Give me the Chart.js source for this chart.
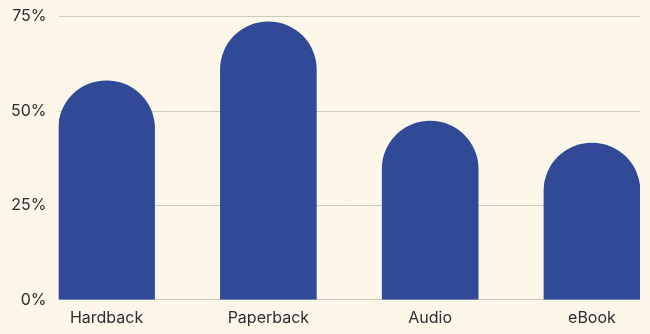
<!DOCTYPE html>
<html>
<head>
<meta charset="utf-8">
<script src="https://cdn.jsdelivr.net/npm/chart.js@4"></script>
<style>
  html, body { margin: 0; padding: 0; background: #FDF7E9; overflow: hidden; }
  #wrap { width: 650px; height: 339px; margin-top: -5px; }
</style>
</head>
<body>
<div id="wrap"><canvas id="formatChart"></canvas></div>
<script>
const formats = ['Hardback', 'Paperback', 'Audio', 'eBook'];
const shares = [58.0, 73.6, 47.3, 41.5];
const yTicks = [0, 25, 50, 75];

const barColor = '#304A98';
const textColor = '#2E2E2E';
const gridColor = '#CFCABA';

const ctx = document.getElementById('formatChart').getContext('2d');

new Chart(ctx, {
    type: 'bar',
    data: {
        datasets: [{
            label: 'Share',
            data: shares.map((v, i) => ({ x: i, y: v })),
            backgroundColor: barColor,
            borderRadius: 48,
            borderSkipped: 'bottom',
            barThickness: 96
        }]
    },
    options: {
        responsive: true,
        maintainAspectRatio: false,
        animation: false,
        layout: { padding: { top: 0, right: 10, left: -1, bottom: 5 } },
        plugins: {
            legend: { display: false },
            tooltip: { enabled: false }
        },
        scales: {
            x: {
                type: 'linear',
                offset: false,
                min: -0.297,
                max: 3.297,
                grid: { display: false },
                border: { display: false },
                afterBuildTicks: scale => {
                    scale.ticks = formats.map((_, i) => ({ value: i }));
                },
                ticks: {
                    color: textColor,
                    font: { family: 'Inter', size: 16 },
                    padding: 1,
                    maxRotation: 0,
                    autoSkip: false,
                    callback: v => formats[v] ?? ''
                }
            },
            y: {
                min: 0,
                max: 75,
                afterBuildTicks: scale => {
                    scale.ticks = yTicks.map(v => ({ value: v }));
                },
                grid: { color: gridColor, drawTicks: false, lineWidth: 1 },
                border: { display: false },
                ticks: {
                    color: textColor,
                    font: { family: 'Inter', size: 16 },
                    padding: 12,
                    callback: v => v + '%'
                }
            }
        }
    }
});
</script>
</body>
</html>
